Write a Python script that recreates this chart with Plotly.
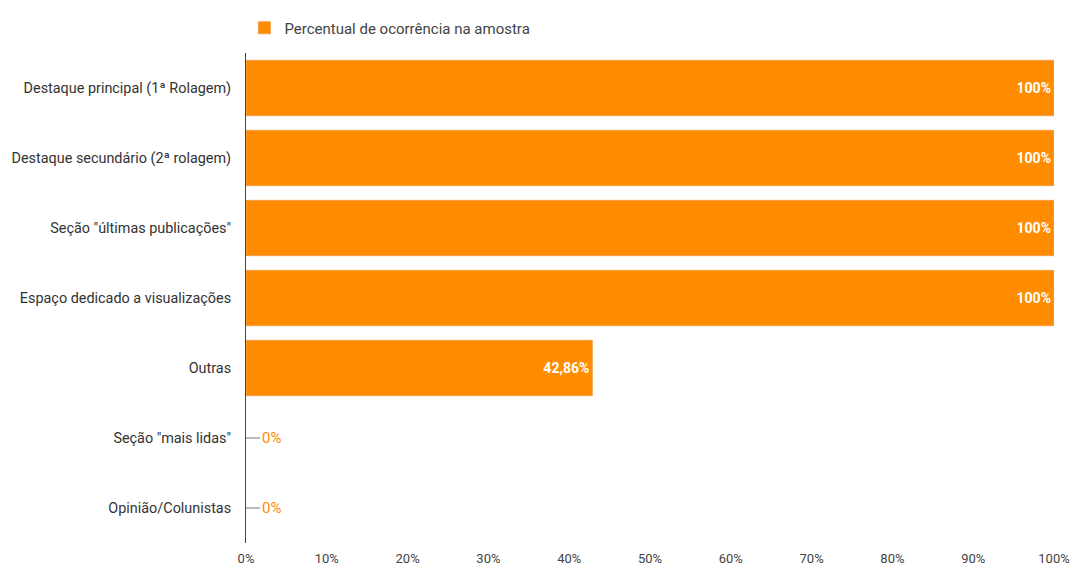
import plotly.graph_objects as go

categories = [
    "Destaque principal (1ª Rolagem)",
    "Destaque secundário (2ª rolagem)",
    "Seção \"últimas publicações\"",
    "Espaço dedicado a visualizações",
    "Outras",
    "Seção \"mais lidas\"",
    "Opinião/Colunistas",
]
values = [100, 100, 100, 100, 42.86, 0, 0]
series_name = "Percentual de ocorrência na amostra"
tick_vals = [0, 10, 20, 30, 40, 50, 60, 70, 80, 90, 100]
tick_text = [f"{v}%" for v in tick_vals]

ORANGE = "#FF8C00"


def fmt(v):
    s = f"{v:.2f}".rstrip("0").rstrip(".")
    return s.replace(".", ",") + "%"


labels = [fmt(v) if v > 0 else "" for v in values]
line_widths = [1 if v > 0 else 0 for v in values]

fig = go.Figure()
fig.add_trace(go.Bar(
    y=categories,
    x=values,
    orientation="h",
    name=series_name,
    marker=dict(color=ORANGE, line=dict(color="#F5A04A", width=line_widths)),
    width=0.79,
    text=labels,
    textposition="inside",
    insidetextanchor="end",
    textfont=dict(color="white", size=14, family="Roboto", weight="bold"),
    cliponaxis=False,
    showlegend=True,
))

for c, v in zip(categories, values):
    if v == 0:
        fig.add_annotation(
            x=v, y=c, xref="x", yref="y",
            text=fmt(v), showarrow=True, arrowhead=0, arrowwidth=1,
            arrowcolor="#777777", ax=25, ay=0, standoff=0, startstandoff=0,
            font=dict(color=ORANGE, size=15, family="Roboto"),
        )

fig.update_layout(
    width=1073, height=566,
    margin=dict(l=246, r=19, t=53, b=23, autoexpand=False),
    paper_bgcolor="white", plot_bgcolor="white",
    font=dict(family="Roboto", color="#444444", size=13),
    bargap=0.21,
    legend=dict(
        orientation="h", x=-0.002, xanchor="left",
        yref="container", y=1 - 28 / 566, yanchor="middle",
        font=dict(size=15, color="#444444"),
    ),
    xaxis=dict(
        range=[0, 100], tickvals=tick_vals, ticktext=tick_text,
        showgrid=False, zeroline=False, showline=False,
        tickfont=dict(size=13, color="#444444"), ticks="",
        automargin=False, ticklabelstandoff=6,
    ),
    yaxis=dict(
        autorange="reversed", showgrid=False, zeroline=False,
        showline=True, linecolor="#444444", linewidth=1,
        tickfont=dict(size=14.4, color="#333333"), ticks="",
        ticklabelstandoff=11, automargin=False,
    ),
)

# remove the default 8px page margin so the figure sits at the window's corner
fig.write_html(
    "out.html",
    config={"displayModeBar": False},
    post_script="document.body.style.margin='0';",
)
